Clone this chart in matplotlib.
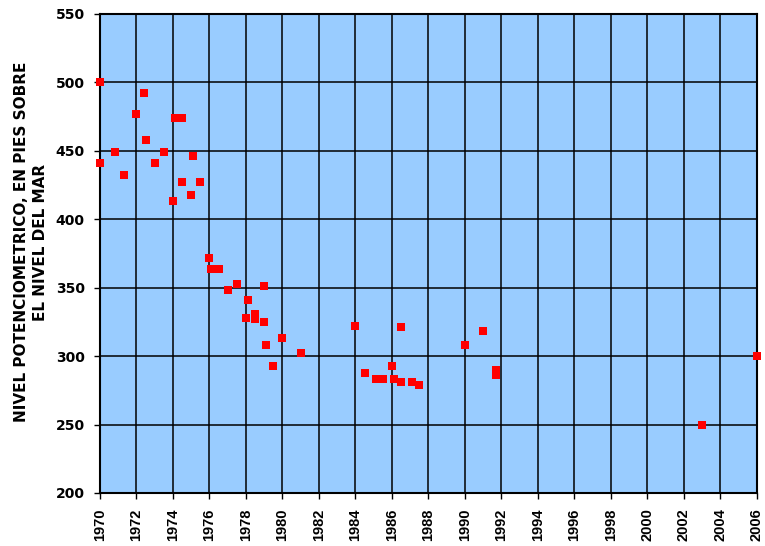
import matplotlib.pyplot as plt

plt.rcParams['font.family'] = ['Liberation Sans', 'DejaVu Sans']

years = [1970.0, 1970.0, 1970.8, 1971.3, 1972.0, 1972.4, 1972.5, 1973.0,
         1973.5, 1974.0, 1974.1, 1974.5, 1974.5, 1975.0, 1975.1, 1975.5,
         1976.0, 1976.1, 1976.5, 1977.5, 1977.0, 1979.0, 1978.1, 1978.0,
         1978.5, 1978.5, 1979.0, 1980.0, 1979.1, 1981.0, 1979.5,
         1984.0, 1986.5, 1991.0, 1990.0, 1984.5, 1986.0, 1985.1, 1985.5,
         1986.1, 1986.5, 1987.1, 1987.5, 1991.7, 1991.7,
         2003.0, 2006.0]
levels = [500, 441, 449, 432, 477, 492, 458, 441,
          449, 413, 474, 474, 427, 418, 446, 427,
          372, 364, 364, 353, 348, 351, 341, 328,
          331, 327, 325, 313, 308, 302, 293,
          322, 321, 318, 308, 288, 293, 283, 283,
          283, 281, 281, 279, 290, 286,
          250, 300]

xticks = list(range(1970, 2007, 2))
yticks = list(range(200, 551, 50))

fig = plt.figure(figsize=(7.65, 5.46), dpi=100)
ax = fig.add_axes([0.1307, 0.0971, 0.8588, 0.8773])
ax.set_facecolor('#99CCFF')

ax.plot(years, levels, linestyle='none', marker='s', markersize=5.2,
        color='#FF0000', markeredgewidth=0, zorder=5, clip_on=False)

ax.set_xlim(1970, 2006)
ax.set_ylim(200, 550)
ax.set_xticks(xticks)
ax.set_yticks(yticks)
ax.set_xticklabels([str(t) for t in xticks], rotation=90, fontsize=10.5,
                   fontweight='bold')
ax.set_yticklabels([str(t) for t in yticks], fontsize=10,
                   fontweight='bold', family='DejaVu Sans')
ax.tick_params(axis='both', length=4, width=1, direction='out')
ax.tick_params(axis='x', pad=7)
ax.tick_params(axis='y', pad=7)
ax.grid(True, color='black', linewidth=1.1)
ax.set_axisbelow(True)
for s in ax.spines.values():
    s.set_linewidth(1.5)

fig.text(31 / 765, 1 - 242 / 546,
         'NIVEL POTENCIOMETRICO, EN PIES SOBRE\nEL NIVEL DEL MAR',
         rotation=90, ha='center', va='center', multialignment='center',
         fontsize=11, fontweight='bold', family='DejaVu Sans',
         linespacing=1.4)

fig.savefig('out.png', dpi=100)
